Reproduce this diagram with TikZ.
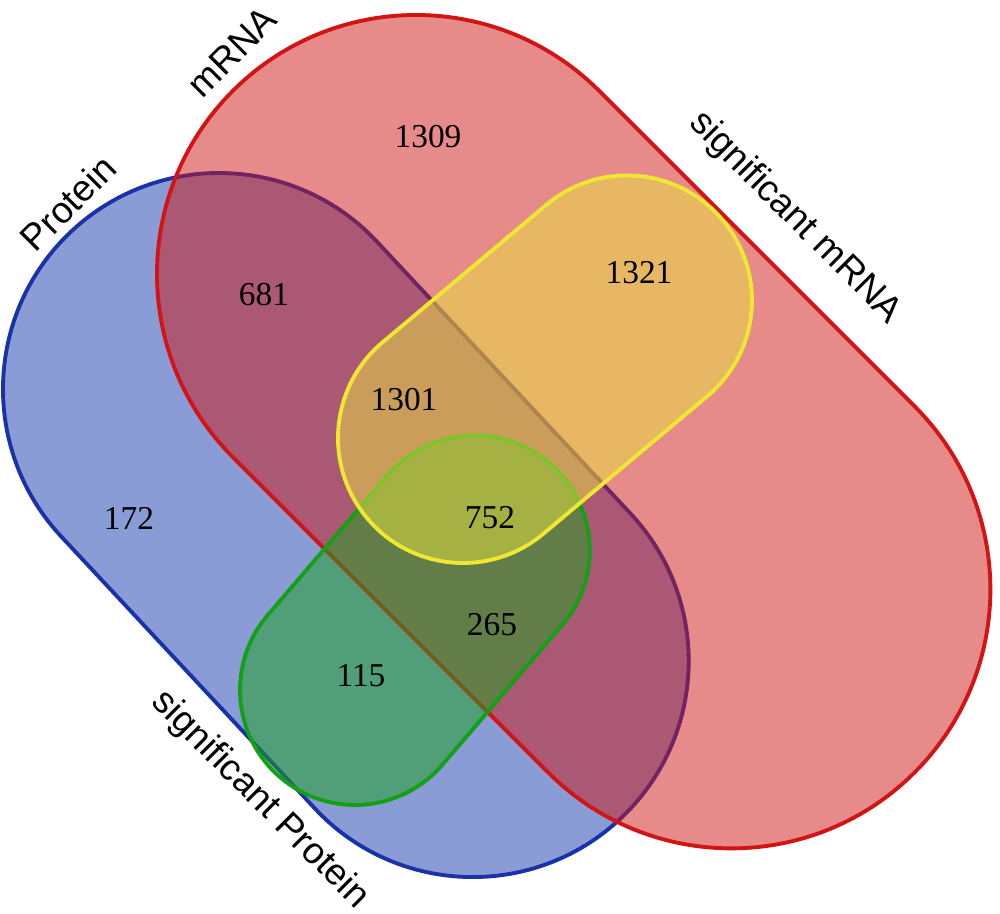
\documentclass[tikz,border=0pt]{standalone}
\usepackage{fontspec}
\setmainfont{Liberation Serif}
\newfontfamily\labelfont{Liberation Sans}
\definecolor{redline}{RGB}{210,20,20}
\definecolor{redfill}{RGB}{205,21,21}
\definecolor{blueline}{RGB}{25,50,170}
\definecolor{bluefill}{RGB}{21,57,173}
\definecolor{greenline}{RGB}{20,160,20}
\definecolor{greenfill}{RGB}{26,164,30}
\definecolor{yellowline}{RGB}{238,232,50}
\definecolor{yellowfill}{RGB}{234,230,64}
\newcommand\mystadium[5]{%
  \begin{scope}[shift={#2}, rotate=#3]
    \path[#1] (0,-#5) -- (#4,-#5) arc[start angle=-90,end angle=90,radius=#5]
      -- (0,#5) arc[start angle=90,end angle=270,radius=#5] -- cycle;
  \end{scope}}
\tikzset{
  setshape/.style={line width=2.2pt, fill opacity=0.5, draw opacity=1},
  num/.style={font=\fontsize{19}{19}\selectfont, inner sep=0pt},
  setlabel/.style={font=\labelfont\fontsize{21}{21}\selectfont, inner sep=0pt}
}
\begin{document}
\begin{tikzpicture}[x=0.2mm, y=-0.2mm]
\useasboundingbox (0,0) rectangle (1000,914);
% sets
\mystadium{setshape, draw=blueline, fill=bluefill}{(219,389)}{-47}{372}{216}
\mystadium{setshape, draw=redline, fill=redfill}{(416,274)}{-45}{446}{259}
\mystadium{setshape, draw=greenline, fill=greenfill}{(355,690)}{49.4}{184}{115}
\mystadium{setshape, draw=yellowline, fill=yellowfill}{(463,438)}{40}{214}{125}
% labels
\node[setlabel, rotate=45] (lmrna) at (232,52) {mRNA};
\node[setlabel, rotate=45] (lprot) at (68,203) {Protein};
\node[setlabel, rotate=-45] (lsmrna) at (795,218) {significant mRNA};
\node[setlabel, rotate=-45] (lsprot) at (260,800) {significant Protein};
% counts
\node[num] (n1309) at (428,137) {1309};
\node[num] (n681) at (264,295) {681};
\node[num] (n1321) at (639,273) {1321};
\node[num] (n1301) at (404,400) {1301};
\node[num] (n172) at (129,518) {172};
\node[num] (n752) at (490,518) {752};
\node[num] (n265) at (492,625) {265};
\node[num] (n115) at (361,676) {115};
\end{tikzpicture}
\end{document}
